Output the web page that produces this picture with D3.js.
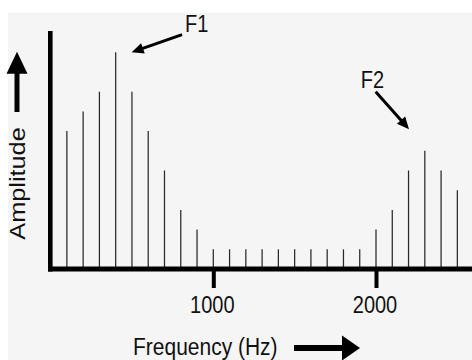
<!DOCTYPE html>
<html><head><meta charset="utf-8">
<script src="https://cdn.jsdelivr.net/npm/d3@7"></script>
<style>
html,body{margin:0;padding:0;background:#fff;}
svg{display:block;}
text{font-family:"Liberation Sans",Arial,sans-serif;fill:#111;}
</style></head>
<body>
<script>
// Harmonic frequencies (Hz) and their amplitudes (arbitrary units)
const frequencies = [100,200,300,400,500,600,700,800,900,1000,1100,1200,1300,1400,1500,1600,1700,1800,1900,2000,2100,2200,2300,2400,2500];
const amplitudes  = [7,8,9,11,9,7,5,3,2,1,1,1,1,1,1,1,1,1,1,2,3,5,6,5,4];
const xTicks = [1000, 2000];
const xLabel = "Frequency (Hz)";
const yLabel = "Amplitude";
// Formant annotations (in data units)
const formantLabels = ["F1", "F2"];
const formantText  = [[826, 12.05], [1906, 9.2]];
const formantFrom  = [[808, 11.9], [1998, 9.0]];
const formantTip   = [[498, 11.0], [2203, 7.1]];

const W = 472, H = 360, SY = 1.15;
const svg = d3.select("body").append("svg").attr("width", W).attr("height", H);
svg.append("rect").attr("x", 8).attr("y", 13).attr("width", W - 8).attr("height", H - 13).attr("fill", "#f5f5f5");

const x = d3.scaleLinear().domain([0, 2600]).range([50.6, 50.6 + 2600 * 0.1627]);
const y = d3.scaleLinear().domain([0, 12]).range([269, 32.6]);

// harmonic lines
svg.append("g").selectAll("line").data(frequencies).join("line")
  .attr("x1", d => x(d)).attr("x2", d => x(d))
  .attr("y1", y(0)).attr("y2", (d, i) => y(amplitudes[i]))
  .attr("stroke", "#2a2a2a").attr("stroke-width", 1.25);

// x axis
const gx = svg.append("g").attr("transform", `translate(0,${y(0)})`)
  .call(d3.axisBottom(x).tickValues(xTicks).tickSizeOuter(0).tickSizeInner(19).tickFormat(d3.format("d")));
gx.select(".domain").attr("d", `M48,0H${W}`).attr("stroke", "#000").attr("stroke-width", 5);
gx.selectAll(".tick line").attr("stroke", "#000").attr("stroke-width", 4);
gx.selectAll(".tick text").attr("y", 0).attr("dy", 0)
  .attr("transform", `translate(-1.5,44) scale(1,${SY})`)
  .style("font-size", "20px").attr("fill", "#111")
  .attr("font-family", '"Liberation Sans",Arial,sans-serif');

// y axis
const gy = svg.append("g").attr("transform", `translate(50.3,0)`)
  .call(d3.axisLeft(y).tickValues([]).tickSizeOuter(0));
gy.select(".domain").attr("d", `M0,${y(0)+2.5}V31`).attr("stroke", "#000").attr("stroke-width", 4.6);

// arrowhead helper
function arrowHead(tx, ty, fx, fy, len, wid) {
  const a = Math.atan2(ty - fy, tx - fx);
  const bx = tx - len * Math.cos(a), by = ty - len * Math.sin(a);
  const px = -Math.sin(a) * wid / 2, py = Math.cos(a) * wid / 2;
  return `M${tx},${ty}L${bx + px},${by + py}L${bx - px},${by - py}Z`;
}
function arrow(fx, fy, tx, ty, sw, len, wid) {
  const a = Math.atan2(ty - fy, tx - fx);
  const bx = tx - (len - 1) * Math.cos(a), by = ty - (len - 1) * Math.sin(a);
  svg.append("line").attr("x1", fx).attr("y1", fy).attr("x2", bx).attr("y2", by)
    .attr("stroke", "#000").attr("stroke-width", sw);
  svg.append("path").attr("d", arrowHead(tx, ty, fx, fy, len, wid)).attr("fill", "#000");
}

// formant annotations
formantLabels.forEach((lab, i) => {
  svg.append("text")
    .attr("transform", `translate(${x(formantText[i][0])},${y(formantText[i][1])}) scale(1,${SY})`)
    .style("font-size", "20px").text(lab);
  arrow(x(formantFrom[i][0]), y(formantFrom[i][1]), x(formantTip[i][0]), y(formantTip[i][1]), 3, 12, 11);
});

// axis labels
svg.append("text").attr("transform", `translate(133,355) scale(1,${SY})`)
  .style("font-size", "21px").text(xLabel);
arrow(294, 348, 360, 348, 6, 18, 25);

svg.append("text").attr("transform", `translate(25,183.5) scale(1,${SY}) rotate(-90)`)
  .attr("text-anchor", "middle").style("font-size", "22px").text(yLabel);
arrow(17, 112, 17, 51.7, 5, 22, 21);
</script>
</body></html>
